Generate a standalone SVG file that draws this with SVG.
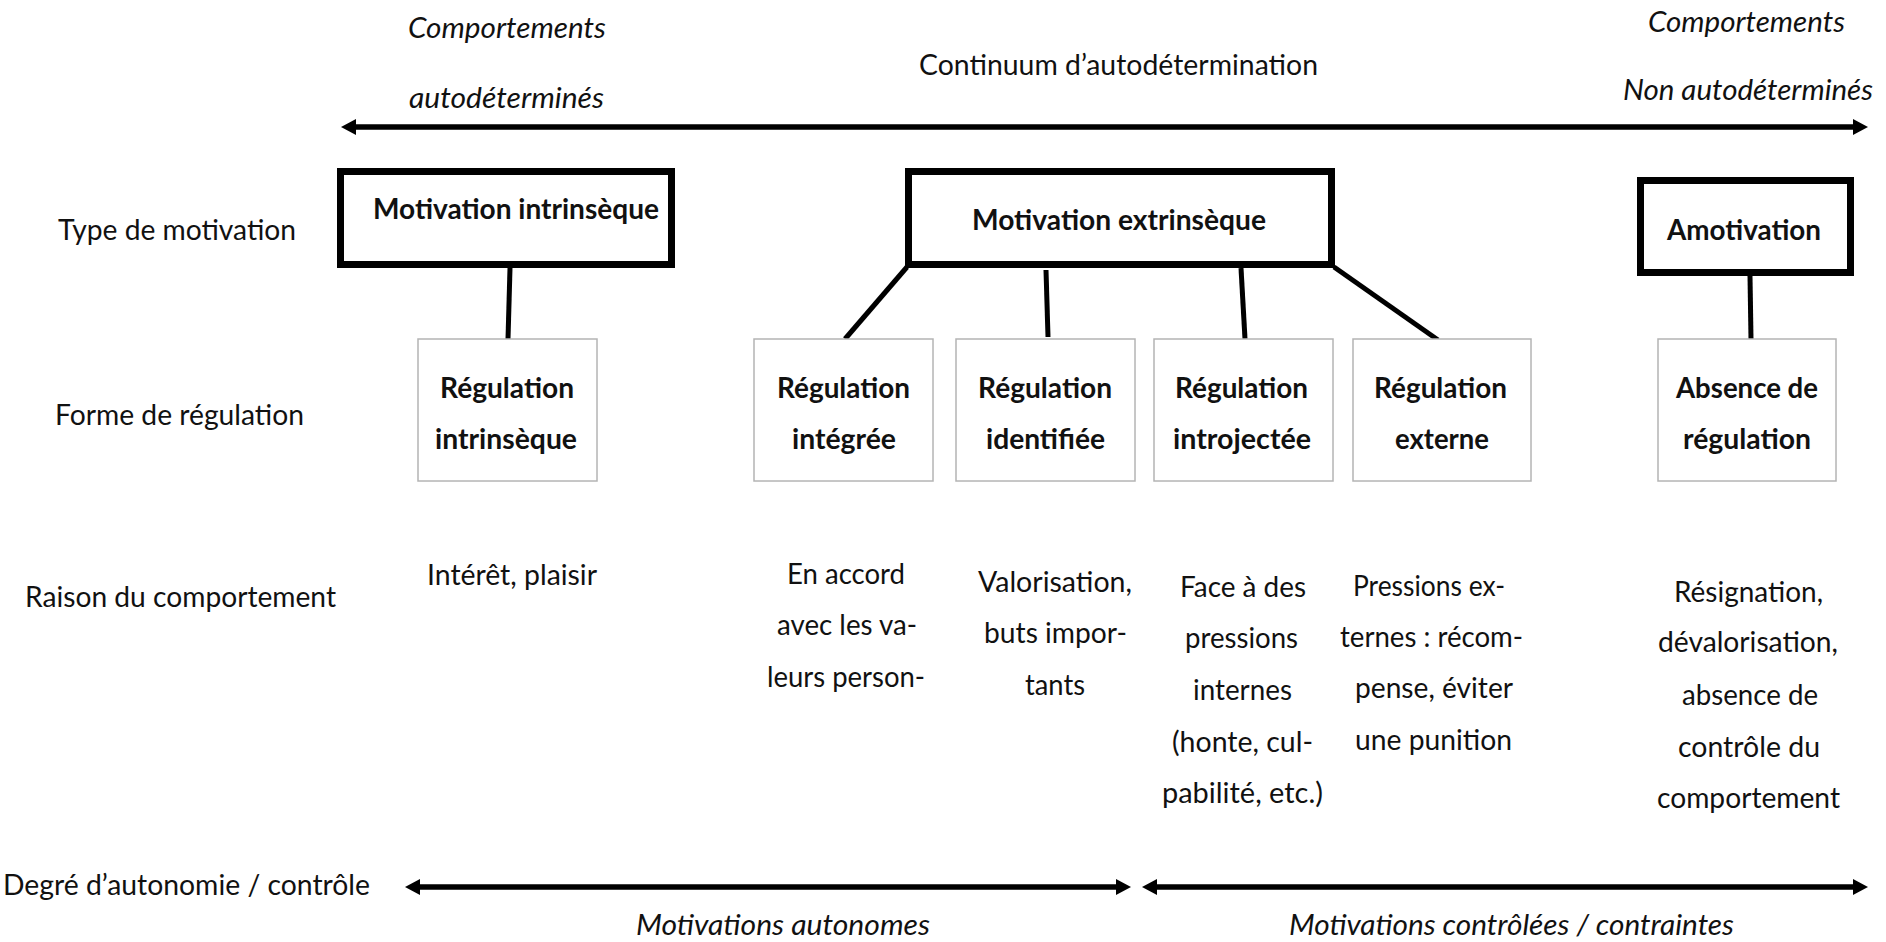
<svg xmlns="http://www.w3.org/2000/svg" width="1886" height="942" viewBox="0 0 1886 942">
<style>
text{font-family:"Lato","Liberation Sans",sans-serif;font-size:29px;fill:#111;}
.b{font-weight:bold;}
.i{font-style:italic;}
.thick{fill:#fff;stroke:#000;stroke-width:7;}
.thin{fill:#fff;stroke:#b4b4b4;stroke-width:1.5;}
.con{stroke:#000;stroke-width:5;fill:none;}
.arr{stroke:#000;stroke-width:5.5;fill:none;marker-start:url(#ah);marker-end:url(#ah);}
</style>
<defs>
<marker id="ah" markerUnits="userSpaceOnUse" markerWidth="16" markerHeight="18" refX="5" refY="9" orient="auto-start-reverse" viewBox="0 0 16 18">
<path d="M0,1 L15,9 L0,17 z" fill="#000"/>
</marker>
</defs>
<rect width="1886" height="942" fill="#fff"/>

<g id="axis-top">
<text class="i" x="408" y="38" textLength="198" lengthAdjust="spacingAndGlyphs">Comportements</text>
<text class="i" x="409" y="108" textLength="195" lengthAdjust="spacingAndGlyphs">autodéterminés</text>
<text x="919" y="75" textLength="399" lengthAdjust="spacingAndGlyphs">Continuum d’autodétermination</text>
<text class="i" x="1648" y="32" textLength="197" lengthAdjust="spacingAndGlyphs">Comportements</text>
<text class="i" x="1623" y="100" textLength="250" lengthAdjust="spacingAndGlyphs">Non autodéterminés</text>
</g>

<g id="row-labels">
<text x="58" y="240" textLength="238" lengthAdjust="spacingAndGlyphs">Type de motivation</text>
<text x="55" y="425" textLength="249" lengthAdjust="spacingAndGlyphs">Forme de régulation</text>
<text x="25" y="607" textLength="311" lengthAdjust="spacingAndGlyphs">Raison du comportement</text>
<text x="3" y="895" textLength="367" lengthAdjust="spacingAndGlyphs">Degré d’autonomie / contrôle</text>
</g>

<g id="connectors">
<line class="arr" x1="351" y1="127" x2="1858" y2="127"/>
<line class="arr" x1="415" y1="887" x2="1121" y2="887"/>
<line class="arr" x1="1152" y1="887" x2="1858" y2="887"/>
<line class="con" x1="510" y1="268" x2="508" y2="339"/>
<line class="con" x1="907" y1="267" x2="845" y2="339"/>
<line class="con" x1="1046" y1="270" x2="1048" y2="337"/>
<line class="con" x1="1241" y1="268" x2="1245" y2="339"/>
<line class="con" x1="1334" y1="267" x2="1438" y2="340"/>
<line class="con" x1="1750" y1="276" x2="1751" y2="339"/>
</g>

<g id="motivation-intrinseque">
<rect class="thick" x="340.5" y="171.5" width="331" height="93"/>
<text class="b" x="373" y="219" textLength="286" lengthAdjust="spacingAndGlyphs">Motivation intrinsèque</text>
</g>
<g id="motivation-extrinseque">
<rect class="thick" x="908.5" y="171.5" width="423" height="93"/>
<text class="b" x="972" y="230" textLength="294" lengthAdjust="spacingAndGlyphs">Motivation extrinsèque</text>
</g>
<g id="amotivation">
<rect class="thick" x="1640.5" y="180.5" width="210" height="92"/>
<text class="b" x="1667" y="240" textLength="154" lengthAdjust="spacingAndGlyphs">Amotivation</text>
</g>

<g id="regulation-intrinseque">
<rect class="thin" x="418" y="339" width="179" height="142"/>
<text class="b" x="440" y="398" textLength="134" lengthAdjust="spacingAndGlyphs">Régulation</text>
<text class="b" x="435" y="449" textLength="142" lengthAdjust="spacingAndGlyphs">intrinsèque</text>
</g>
<g id="regulation-integree">
<rect class="thin" x="754" y="339" width="179" height="142"/>
<text class="b" x="777" y="398" textLength="133" lengthAdjust="spacingAndGlyphs">Régulation</text>
<text class="b" x="792" y="449" textLength="104" lengthAdjust="spacingAndGlyphs">intégrée</text>
</g>
<g id="regulation-identifiee">
<rect class="thin" x="956" y="339" width="179" height="142"/>
<text class="b" x="978" y="398" textLength="134" lengthAdjust="spacingAndGlyphs">Régulation</text>
<text class="b" x="986" y="449" textLength="119" lengthAdjust="spacingAndGlyphs">identifiée</text>
</g>
<g id="regulation-introjectee">
<rect class="thin" x="1154" y="339" width="179" height="142"/>
<text class="b" x="1175" y="398" textLength="133" lengthAdjust="spacingAndGlyphs">Régulation</text>
<text class="b" x="1173" y="449" textLength="138" lengthAdjust="spacingAndGlyphs">introjectée</text>
</g>
<g id="regulation-externe">
<rect class="thin" x="1353" y="339" width="178" height="142"/>
<text class="b" x="1374" y="398" textLength="133" lengthAdjust="spacingAndGlyphs">Régulation</text>
<text class="b" x="1395" y="449" textLength="94" lengthAdjust="spacingAndGlyphs">externe</text>
</g>
<g id="absence-regulation">
<rect class="thin" x="1658" y="339" width="178" height="142"/>
<text class="b" x="1676" y="398" textLength="142" lengthAdjust="spacingAndGlyphs">Absence de</text>
<text class="b" x="1683" y="449" textLength="128" lengthAdjust="spacingAndGlyphs">régulation</text>
</g>

<g id="raisons">
<text x="427" y="585" textLength="170" lengthAdjust="spacingAndGlyphs">Intérêt, plaisir</text>
<text x="787" y="584" textLength="118" lengthAdjust="spacingAndGlyphs">En accord</text>
<text x="777" y="635" textLength="140" lengthAdjust="spacingAndGlyphs">avec les va-</text>
<text x="767" y="687" textLength="158" lengthAdjust="spacingAndGlyphs">leurs person-</text>
<text x="978" y="592" textLength="154" lengthAdjust="spacingAndGlyphs">Valorisation,</text>
<text x="984" y="643" textLength="143" lengthAdjust="spacingAndGlyphs">buts impor-</text>
<text x="1025" y="695" textLength="60" lengthAdjust="spacingAndGlyphs">tants</text>
<text x="1180" y="597" textLength="126" lengthAdjust="spacingAndGlyphs">Face à des</text>
<text x="1185" y="648" textLength="113" lengthAdjust="spacingAndGlyphs">pressions</text>
<text x="1193" y="700" textLength="99" lengthAdjust="spacingAndGlyphs">internes</text>
<text x="1172" y="752" textLength="141" lengthAdjust="spacingAndGlyphs">(honte, cul-</text>
<text x="1162" y="803" textLength="161" lengthAdjust="spacingAndGlyphs">pabilité, etc.)</text>
<text x="1353" y="596" textLength="152" lengthAdjust="spacingAndGlyphs">Pressions ex-</text>
<text x="1340" y="647" textLength="183" lengthAdjust="spacingAndGlyphs">ternes : récom-</text>
<text x="1355" y="698" textLength="158" lengthAdjust="spacingAndGlyphs">pense, éviter</text>
<text x="1355" y="750" textLength="157" lengthAdjust="spacingAndGlyphs">une punition</text>
<text x="1674" y="602" textLength="149" lengthAdjust="spacingAndGlyphs">Résignation,</text>
<text x="1658" y="652" textLength="180" lengthAdjust="spacingAndGlyphs">dévalorisation,</text>
<text x="1682" y="705" textLength="136" lengthAdjust="spacingAndGlyphs">absence de</text>
<text x="1678" y="757" textLength="142" lengthAdjust="spacingAndGlyphs">contrôle du</text>
<text x="1657" y="808" textLength="183" lengthAdjust="spacingAndGlyphs">comportement</text>
</g>

<g id="axis-bottom">
<text class="i" x="636" y="935" textLength="294" lengthAdjust="spacingAndGlyphs">Motivations autonomes</text>
<text class="i" x="1289" y="935" textLength="445" lengthAdjust="spacingAndGlyphs">Motivations contrôlées / contraintes</text>
</g>
</svg>
